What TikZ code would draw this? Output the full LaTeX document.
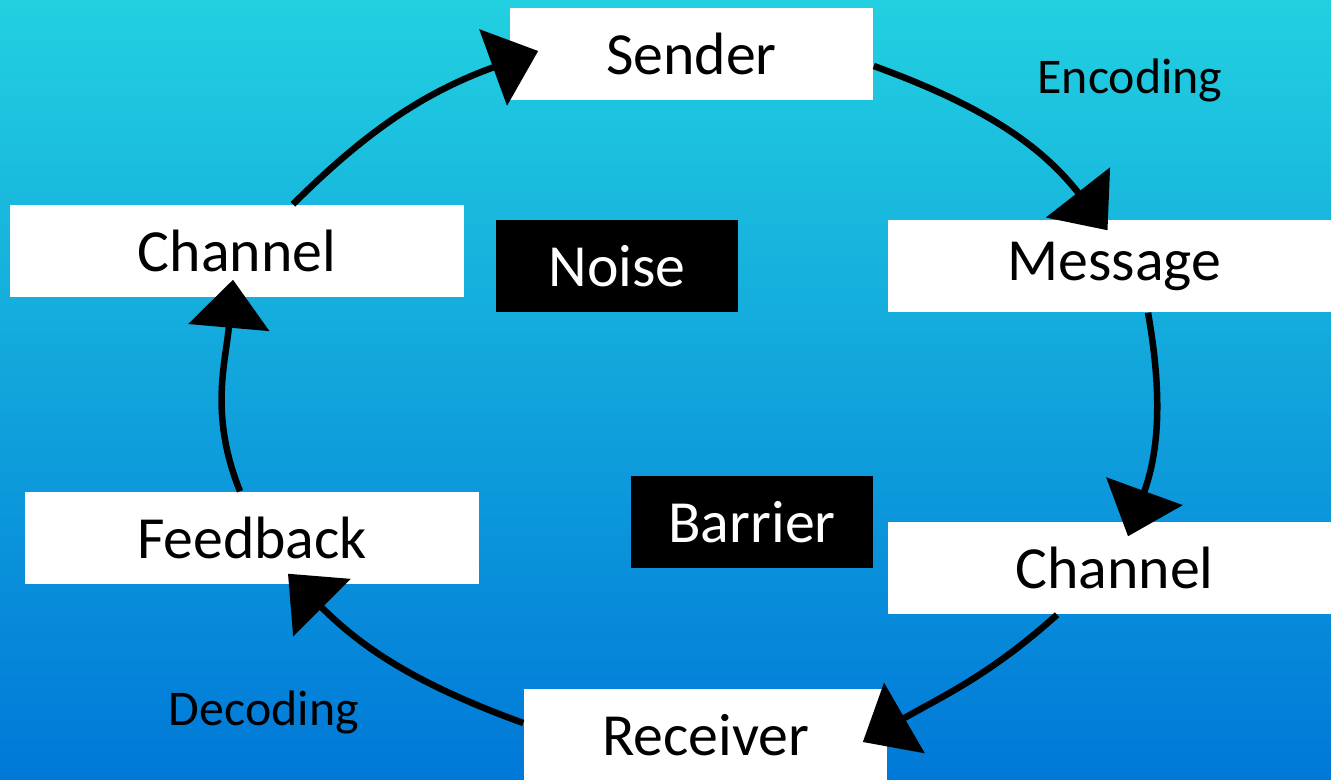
\documentclass[tikz,border=0pt]{standalone}
\usepackage{fontspec}
\setmainfont{Carlito}
\usetikzlibrary{arrows.meta,calc}
\definecolor{bgtop}{RGB}{34,208,224}
\definecolor{bgbot}{RGB}{0,120,216}
\begin{document}
\begin{tikzpicture}[x=0.01cm,y=-0.01cm,
  box/.style={rectangle,inner sep=0pt,minimum height=0.92cm,font=\fontsize{17}{20}\selectfont},
  wbox/.style={box,fill=white,text=black},
  bbox/.style={box,fill=black,text=white},
  lbl/.style={font=\fontsize{14.2}{17}\selectfont,text=black},
  conn/.style={line width=0.065cm,black,-{Triangle[length=0.48cm,width=0.8cm]}}]
\useasboundingbox (0,0) rectangle (1331,779);
\shade[top color=bgtop,bottom color=bgbot] (0,0) rectangle (1331,779);
% boxes
\node[wbox,minimum width=3.63cm] (sender) at (691.5,54) {Sender};
\node[wbox,minimum width=4.54cm] (chL) at (237,251) {Channel};
\node[bbox,minimum width=2.42cm] (noise) at (617,266) {Noise};
\node[wbox,minimum width=4.43cm] (message) at (1109.5,266) {\hspace*{0.1cm}Message};
\node[bbox,minimum width=2.42cm] (barrier) at (752,522) {Barrier};
\node[wbox,minimum width=4.43cm] (chR) at (1109.5,568) {\hspace*{0.1cm}Channel};
\node[wbox,minimum width=4.54cm] (feedback) at (252,538) {Feedback};
\node[wbox,minimum width=3.63cm] (receiver) at (705.5,735) {Receiver};
\node[lbl] (enc) at (1130,80) {Encoding};
\node[lbl] (dec) at (264,712) {Decoding};
% connectors
\coordinate (s1) at ($(chL.north)+(56,0)$);
\coordinate (e1) at ($(sender.west)+(29,-3)$);
\coordinate (s2) at ($(sender.east)+(0,12)$);
\coordinate (e2) at ($(message.north)+(-2,11)$);
\coordinate (s3) at ($(message.south)+(38.5,0)$);
\coordinate (e3) at ($(chR.north)+(18.5,15)$);
\coordinate (s4) at ($(chR.south)+(-52.5,0)$);
\coordinate (e4) at ($(receiver.east)+(-25,7)$);
\coordinate (s5) at ($(receiver.west)+(0,-12)$);
\coordinate (e5) at ($(feedback.south)+(36,-11)$);
\coordinate (s6) at ($(feedback.north)+(-12,0)$);
\coordinate (e6) at ($(chL.south)+(-4,-18)$);
\draw[conn] (s1) to[out=45,in=200] (e1);
\draw[conn] (s2) to[out=-20,in=128] (e2);
\draw[conn] (s3) to[out=-80,in=70] (e3);
\draw[conn] (s4) to[out=-138,in=30] (e4);
\draw[conn] (s5) to[out=160,in=-45] (e5);
\draw[conn] (s6) to[out=112,in=-95] (e6);
\end{tikzpicture}
\end{document}
